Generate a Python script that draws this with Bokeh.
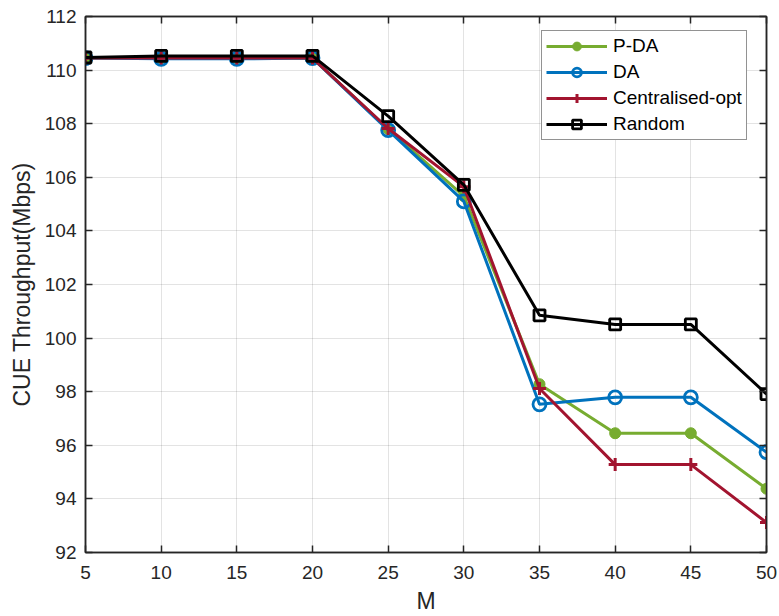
from bokeh.plotting import figure
from bokeh.models import (LinearAxis, Range1d, Legend, LegendItem, FixedTicker)
from bokeh.embed import file_html
from bokeh.resources import INLINE

# CUE throughput (Mbps) versus number of D2D pairs M
M = [5, 10, 15, 20, 25, 30, 35, 40, 45, 50]
p_da = [110.45, 110.45, 110.45, 110.45, 107.80, 105.30, 98.28, 96.45, 96.45, 94.38]
da = [110.45, 110.42, 110.42, 110.45, 107.76, 105.10, 97.53, 97.79, 97.79, 95.74]
centralised = [110.45, 110.45, 110.45, 110.45, 107.82, 105.65, 98.12, 95.28, 95.28, 93.12]
random_alloc = [110.47, 110.53, 110.53, 110.53, 108.28, 105.72, 100.85, 100.51, 100.51, 97.91]

x_ticks = [5, 10, 15, 20, 25, 30, 35, 40, 45, 50]
y_ticks = [92, 94, 96, 98, 100, 102, 104, 106, 108, 110, 112]

FONT = "Liberation Sans"
AX = "#262626"

p = figure(width=779, height=616, output_backend="svg", toolbar_location=None,
           x_range=Range1d(5, 50), y_range=Range1d(92, 112),
           min_border_left=85, min_border_right=13, min_border_top=16,
           min_border_bottom=63)
p.background_fill_color = "white"
p.border_fill_color = "white"
p.outline_line_color = AX
p.outline_line_width = 1.5

for ax in (p.xaxis[0], p.yaxis[0]):
    ax.axis_line_color = AX
    ax.axis_line_width = 1.5
    ax.major_tick_line_color = AX
    ax.major_tick_line_width = 1.5
    ax.major_tick_in = 7
    ax.major_tick_out = 0
    ax.minor_tick_line_color = None
    ax.major_label_text_font = FONT
    ax.major_label_text_font_size = "19px"
    ax.major_label_text_color = AX
    ax.axis_label_text_font = FONT
    ax.axis_label_text_font_size = "23px"
    ax.axis_label_text_color = AX
    ax.axis_label_text_font_style = "normal"

p.xaxis[0].ticker = FixedTicker(ticks=x_ticks)
p.yaxis[0].ticker = FixedTicker(ticks=y_ticks)
p.xaxis[0].axis_label = "M"
p.yaxis[0].axis_label = "CUE Throughput(Mbps)"
p.xaxis[0].major_label_standoff = 13
p.yaxis[0].major_label_standoff = 9
p.xaxis[0].axis_label_standoff = 6
p.xaxis[0].axis_label_text_line_height = 1.0
p.yaxis[0].axis_label_standoff = 7

# box axes with inward ticks on top and right
for side, tks in (("above", x_ticks), ("right", y_ticks)):
    a = LinearAxis(ticker=FixedTicker(ticks=tks))
    a.major_label_text_font_size = "0px"
    a.major_label_text_color = None
    a.axis_line_color = AX
    a.axis_line_width = 1.5
    a.major_tick_line_color = AX
    a.major_tick_line_width = 1.5
    a.major_tick_in = 7
    a.major_tick_out = 0
    a.minor_tick_line_color = None
    a.major_label_standoff = 0
    p.add_layout(a, side)

p.xgrid.ticker = FixedTicker(ticks=x_ticks)
p.ygrid.ticker = FixedTicker(ticks=y_ticks)
p.grid.grid_line_color = "#262626"
p.grid.grid_line_alpha = 0.13
p.grid.grid_line_width = 1

GREEN = "#77AC30"
BLUE = "#0072BD"
RED = "#A2142F"
BLACK = "#000000"
LW = 3

l1 = p.line(M, p_da, line_color=GREEN, line_width=LW)
m1 = p.scatter(M, p_da, marker="circle", size=11, fill_color=GREEN, line_color=GREEN, line_width=1)

l2 = p.line(M, da, line_color=BLUE, line_width=LW)
m2 = p.scatter(M, da, marker="circle", size=13, fill_alpha=0, line_color=BLUE, line_width=2.8)

l3 = p.line(M, centralised, line_color=RED, line_width=LW)
m3 = p.scatter(M, centralised, marker="cross", size=13, line_color=RED, line_width=3)

l4 = p.line(M, random_alloc, line_color=BLACK, line_width=LW)
m4 = p.scatter(M, random_alloc, marker="square", size=11, fill_alpha=0, line_color=BLACK, line_width=2.8)

legend = Legend(items=[
    LegendItem(label="P-DA", renderers=[l1, m1]),
    LegendItem(label="DA", renderers=[l2, m2]),
    LegendItem(label="Centralised-opt", renderers=[l3, m3]),
    LegendItem(label="Random", renderers=[l4, m4]),
], location=(456, 412))
legend.label_text_font = FONT
legend.label_text_font_size = "19px"
legend.label_text_color = "#000000"
legend.glyph_width = 61
legend.glyph_height = 22
legend.label_height = 22
legend.label_standoff = 6
legend.spacing = 4
legend.padding = 4
legend.margin = 0
legend.border_line_color = AX
legend.border_line_width = 1
legend.background_fill_color = "white"
legend.background_fill_alpha = 1
p.add_layout(legend, "center")

open("out.html", "w").write(file_html(p, INLINE))
